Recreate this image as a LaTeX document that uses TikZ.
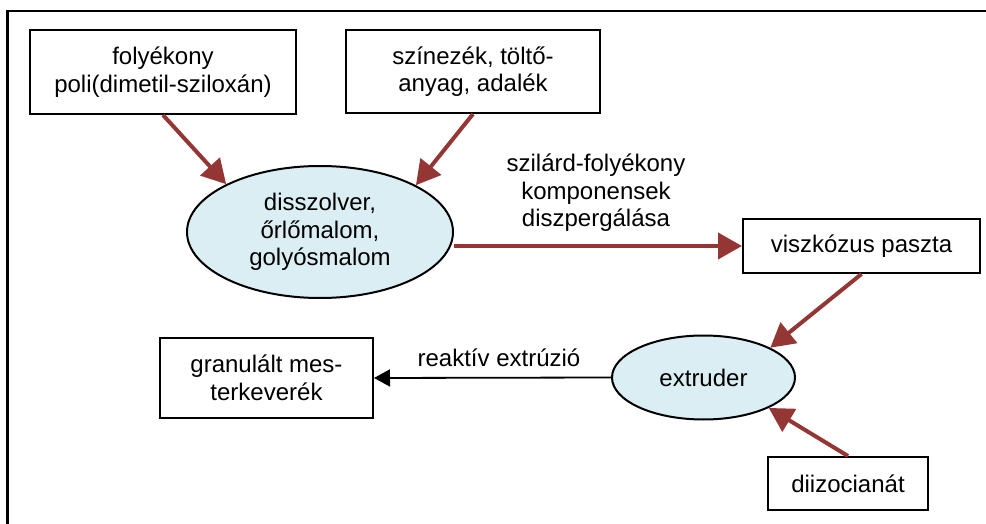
\documentclass[tikz,border=0pt]{standalone}
\usepackage{fontspec}
\setmainfont{Liberation Sans}
\usetikzlibrary{arrows.meta,shapes.geometric}
\definecolor{arrred}{HTML}{943634}
\definecolor{ellfill}{HTML}{DAEEF3}
\tikzset{
  txt/.style={font=\fontsize{24}{27.5}\selectfont, align=center, inner sep=0pt},
  boxn/.style={txt, draw=black, line width=2pt, rectangle},
  elln/.style={txt, draw=black, line width=2pt, ellipse, fill=ellfill, inner sep=0pt},
  redarrow/.style={draw=arrred, line width=4pt, -{Triangle[length=24pt,width=26pt]}},
  blkarrow/.style={draw=black, line width=1.8pt, -{Triangle[length=16pt,width=17pt]}},
}
\begin{document}
\begin{tikzpicture}[x=1pt,y=-1pt]
\useasboundingbox (0,0) rectangle (986,524);
\clip (0,0) rectangle (986,524);
\fill[white] (0,0) rectangle (986,524);
\draw[line width=2.5pt] (7.5,11) rectangle (1000,545);

\node[boxn, minimum width=266pt, minimum height=84pt] (b1) at (163,72) {folyékony\\poli(dimetil-sziloxán)};
\node[boxn, minimum width=254pt, minimum height=83pt] (b2) at (473,71.5) {színezék, töltő-\\anyag, adalék};
\node[elln, minimum width=266pt, minimum height=132pt] (e1) at (320,232) {disszolver,\\őrlőmalom,\\golyósmalom};
\node[txt] (l1) at (596,193) {szilárd-folyékony\\komponensek\\diszpergálása};
\node[boxn, minimum width=237pt, minimum height=54pt] (vp) at (861.5,246) {viszkózus paszta};
\node[elln, minimum width=183pt, minimum height=84pt] (ex) at (703.5,377.5) {extruder};
\node[boxn, minimum width=213pt, minimum height=80pt] (gr) at (266.5,378) {granulált mes-\\terkeverék};
\node[txt] (l2) at (499,358) {reaktív extrúzió};
\node[boxn, minimum width=160pt, minimum height=53pt] (di) at (848,483.5) {diizocianát};

\draw[redarrow] (b1.south) -- (e1.153);
\draw[redarrow] (b2.south) -- (e1.26);
\draw[redarrow] (e1.east |- vp.west) -- (vp.west);
\draw[redarrow] (vp.south) -- (ex.24);
\draw[redarrow] (di.north) -- (ex.-25);
\draw[blkarrow] (ex.west) -- (gr.east);
\end{tikzpicture}
\end{document}
